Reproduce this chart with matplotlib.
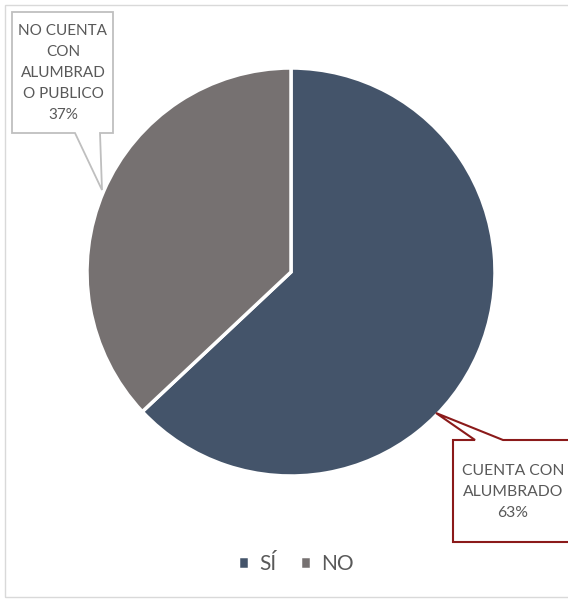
import matplotlib.pyplot as plt
from matplotlib.patches import Polygon, Rectangle

# data
labels = ["SÍ", "NO"]
values = [63, 37]
colors = ["#44546A", "#767171"]
callout_text = ["CUENTA CON\nALUMBRADO\n63%", "NO CUENTA\nCON\nALUMBRAD\nO PUBLICO\n37%"]

W, H = 568, 600
fig = plt.figure(figsize=(W / 100, H / 100), dpi=100)
ax = fig.add_axes([0, 0, 1, 1])
ax.set_xlim(0, W)
ax.set_ylim(0, H)
ax.set_aspect("equal")
ax.axis("off")

def py(y):
    return H - y

# chart border
ax.add_patch(Rectangle((5, py(597)), 600, 592, fill=False, edgecolor="#D9D9D9", lw=1))

wedges, _ = ax.pie(values, colors=colors, startangle=90, counterclock=False,
                   center=(291, py(272)), radius=204,
                   wedgeprops=dict(edgecolor="white", linewidth=2.5))
ax.set_xlim(0, W)
ax.set_ylim(0, H)

# callout for NO
no_box = [(12, 12), (113, 12), (113, 133), (100, 133), (102, 190), (75, 133), (12, 133)]
ax.add_patch(Polygon([(x, py(y)) for x, y in no_box], closed=True, facecolor="white",
                     edgecolor="#BFBFBF", lw=1.3))
ax.text(63, py(73), callout_text[1], ha="center", va="center", fontsize=11,
        family="Lato", color="#595959", linespacing=1.62)

# callout for SI
si_box = [(453, 440), (475, 440), (436, 413), (503, 440), (620, 440), (620, 542), (453, 542)]
ax.add_patch(Polygon([(x, py(y)) for x, y in si_box], closed=True, facecolor="white",
                     edgecolor="#8B1A1A", lw=1.5))
ax.text(513, py(492), callout_text[0], ha="center", va="center", fontsize=11.3,
        family="Lato", color="#595959", linespacing=1.62)

# legend
leg = ax.legend(wedges, labels, loc="center", bbox_to_anchor=(296 / W, 1 - 564 / H),
                ncol=2, frameon=False, handlelength=0.55, handleheight=0.55,
                handletextpad=0.5, columnspacing=1.1,
                prop={"family": "Lato", "size": 15})
for t in leg.get_texts():
    t.set_color("#595959")

fig.savefig("out.png", dpi=100, facecolor="white")
